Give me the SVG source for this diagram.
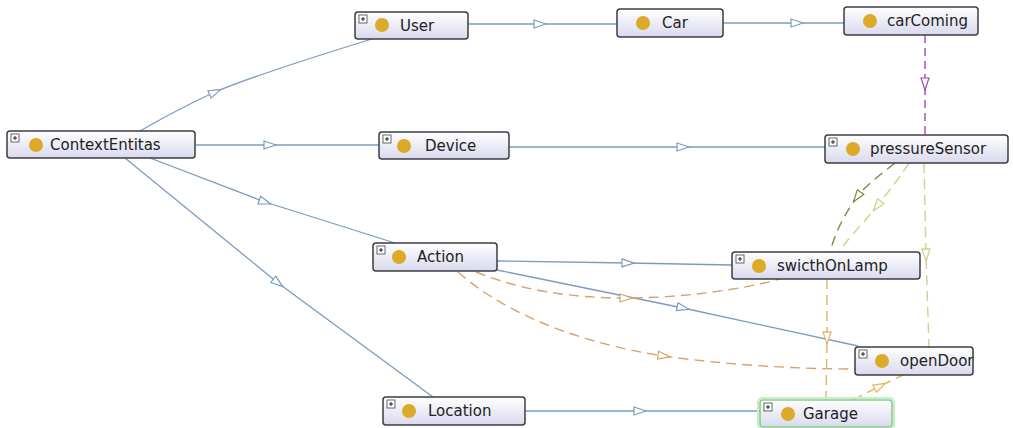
<svg xmlns="http://www.w3.org/2000/svg" width="1013" height="428" viewBox="0 0 1013 428">
  <style>
    .box { fill: url(#nodeFill); stroke: #3c3c44; stroke-width: 1.5; }
    .sel { fill: url(#nodeFill); stroke: #86cf86; stroke-width: 1.6; }
    .dot { fill: #dcaa28; }
    .pbox { fill: #ffffff; stroke: #444; stroke-width: 0.8; }
    .plus { stroke: #222; stroke-width: 1; }
    .lbl { font-family: "DejaVu Sans", "Liberation Sans", sans-serif; font-size: 15px; fill: #222; }
    .sub { fill: none; stroke: #7b9cbf; stroke-width: 1.3; marker-mid: url(#aBlue); }
    .dash { fill: none; stroke-width: 1.4; stroke-dasharray: 10 6; }
    .purple { stroke: #a546b8; marker-mid: url(#aPurple); stroke-dasharray: 8 5; }
    .orange { stroke: #d6a26a; marker-mid: url(#aOrange); }
    .olive { stroke: #7c8a3c; marker-mid: url(#aOlive); }
    .pale { stroke: #d2d08c; marker-mid: url(#aPale); }
    .amber { stroke: #e2b464; marker-mid: url(#aAmber); }
  </style>
  <defs>
    <linearGradient id="nodeFill" x1="0" y1="0" x2="0" y2="1">
      <stop offset="0" stop-color="#ffffff"/>
      <stop offset="1" stop-color="#d9d9ee"/>
    </linearGradient>
    <marker id="aBlue" viewBox="0 0 14 10" refX="7" refY="5" markerWidth="14" markerHeight="10" markerUnits="userSpaceOnUse" orient="auto">
      <path d="M1,1 L13,5 L1,9 Z" fill="#fff" stroke="#7b9cbf" stroke-width="1.2"/>
    </marker>
    <marker id="aPurple" viewBox="0 0 14 10" refX="7" refY="5" markerWidth="14" markerHeight="10" markerUnits="userSpaceOnUse" orient="auto">
      <path d="M1,1 L13,5 L1,9 Z" fill="#fff" stroke="#a546b8" stroke-width="1.2"/>
    </marker>
    <marker id="aOrange" viewBox="0 0 14 10" refX="7" refY="5" markerWidth="14" markerHeight="10" markerUnits="userSpaceOnUse" orient="auto">
      <path d="M1,1 L13,5 L1,9 Z" fill="#fff" stroke="#d6a26a" stroke-width="1.2"/>
    </marker>
    <marker id="aOlive" viewBox="0 0 14 10" refX="7" refY="5" markerWidth="14" markerHeight="10" markerUnits="userSpaceOnUse" orient="auto">
      <path d="M1,1 L13,5 L1,9 Z" fill="#fff" stroke="#7c8a3c" stroke-width="1.2"/>
    </marker>
    <marker id="aPale" viewBox="0 0 14 10" refX="7" refY="5" markerWidth="14" markerHeight="10" markerUnits="userSpaceOnUse" orient="auto">
      <path d="M1,1 L13,5 L1,9 Z" fill="#fff" stroke="#cfcd86" stroke-width="1.2"/>
    </marker>
    <marker id="aAmber" viewBox="0 0 14 10" refX="7" refY="5" markerWidth="14" markerHeight="10" markerUnits="userSpaceOnUse" orient="auto">
      <path d="M1,1 L13,5 L1,9 Z" fill="#fff" stroke="#e2b464" stroke-width="1.2"/>
    </marker>
    <g id="expand">
      <rect class="pbox" x="0" y="0" width="8" height="8"/>
      <path class="plus" d="M2,4 H6 M4,2 V6"/>
    </g>
  </defs>

  <rect width="1013" height="428" fill="#ffffff"/>

  <g id="connectors">
    <!-- subclass links -->
    <path class="sub" d="M140,131 Q176,110 215,92 Q258,74 372,39"/>
    <path class="sub" d="M196,145 L270,145 L379,145"/>
    <path class="sub" d="M150,158 L265,202 L395,243"/>
    <path class="sub" d="M125,158 L278,283 L433,397"/>
    <path class="sub" d="M468,24 L540,24 L617,24"/>
    <path class="sub" d="M723,23 L797,23 L844,23"/>
    <path class="sub" d="M509,147 L683,147 L825,147"/>
    <path class="sub" d="M497,261 L628,263 L732,265"/>
    <path class="sub" d="M497,270 L683,308 L858,346"/>
    <path class="sub" d="M525,411 L640,411 L760,411"/>
    <!-- property links -->
    <path class="dash purple" d="M925,35 L925,84 L925,134"/>
    <path class="dash orange" d="M476,272 C520,290 570,298 626,298 C680,298 740,290 780,279"/>
    <path class="dash orange" d="M458,272 C510,318 590,345 664,356 C720,364 790,369 855,369"/>
    <path class="dash olive" d="M895,163 C880,175 866,185 857,197 C846,212 836,230 830,252"/>
    <path class="dash pale" d="M909,163 C898,180 888,192 877,206 C862,225 848,238 839,252"/>
    <path class="dash pale" d="M924,163 L926,255 L929,347"/>
    <path class="dash amber" d="M827,279 L827,338 L826,400"/>
    <path class="dash amber" d="M853,400 L880,386 L903,375"/>
  </g>

  <g id="node-ContextEntitas">
    <rect class="box" x="7" y="131" width="188" height="27" rx="3"/>
    <use href="#expand" x="11" y="134"/>
    <circle class="dot" cx="36" cy="145" r="7"/>
    <text class="lbl" x="50" y="150">ContextEntitas</text>
  </g>
  <g id="node-User">
    <rect class="box" x="355" y="12" width="113" height="27" rx="3"/>
    <use href="#expand" x="359" y="15"/>
    <circle class="dot" cx="382" cy="25" r="7"/>
    <text class="lbl" x="400" y="31">User</text>
  </g>
  <g id="node-Car">
    <rect class="box" x="617" y="9" width="106" height="28" rx="3"/>
    <circle class="dot" cx="643" cy="23" r="7"/>
    <text class="lbl" x="662" y="28">Car</text>
  </g>
  <g id="node-carComing">
    <rect class="box" x="844" y="7" width="134" height="28" rx="3"/>
    <circle class="dot" cx="870" cy="21" r="7"/>
    <text class="lbl" x="887" y="26">carComing</text>
  </g>
  <g id="node-Device">
    <rect class="box" x="379" y="132" width="130" height="27" rx="3"/>
    <use href="#expand" x="383" y="135"/>
    <circle class="dot" cx="404" cy="146" r="7"/>
    <text class="lbl" x="425" y="151">Device</text>
  </g>
  <g id="node-pressureSensor">
    <rect class="box" x="825" y="135" width="183" height="28" rx="3"/>
    <use href="#expand" x="829" y="138"/>
    <circle class="dot" cx="853" cy="149" r="7"/>
    <text class="lbl" x="870" y="154">pressureSensor</text>
  </g>
  <g id="node-Action">
    <rect class="box" x="373" y="243" width="124" height="28" rx="3"/>
    <use href="#expand" x="377" y="246"/>
    <circle class="dot" cx="399" cy="257" r="7"/>
    <text class="lbl" x="417" y="262">Action</text>
  </g>
  <g id="node-swicthOnLamp">
    <rect class="box" x="732" y="252" width="188" height="27" rx="3"/>
    <use href="#expand" x="736" y="255"/>
    <circle class="dot" cx="759" cy="266" r="7"/>
    <text class="lbl" x="777" y="271">swicthOnLamp</text>
  </g>
  <g id="node-openDoor">
    <rect class="box" x="855" y="347" width="118" height="28" rx="3"/>
    <use href="#expand" x="859" y="350"/>
    <circle class="dot" cx="882" cy="361" r="7"/>
    <text class="lbl" x="900" y="366">openDoor</text>
  </g>
  <g id="node-Garage">
    <rect x="758" y="398" width="136" height="31" rx="4" fill="none" stroke="#c8eec8" stroke-width="2"/>
    <rect class="sel" x="760" y="400" width="132" height="27" rx="3"/>
    <use href="#expand" x="764" y="403"/>
    <circle class="dot" cx="788" cy="414" r="7"/>
    <text class="lbl" x="803" y="419">Garage</text>
  </g>
  <g id="node-Location">
    <rect class="box" x="383" y="397" width="142" height="28" rx="3"/>
    <use href="#expand" x="387" y="400"/>
    <circle class="dot" cx="409" cy="411" r="7"/>
    <text class="lbl" x="428" y="416">Location</text>
  </g>
</svg>
